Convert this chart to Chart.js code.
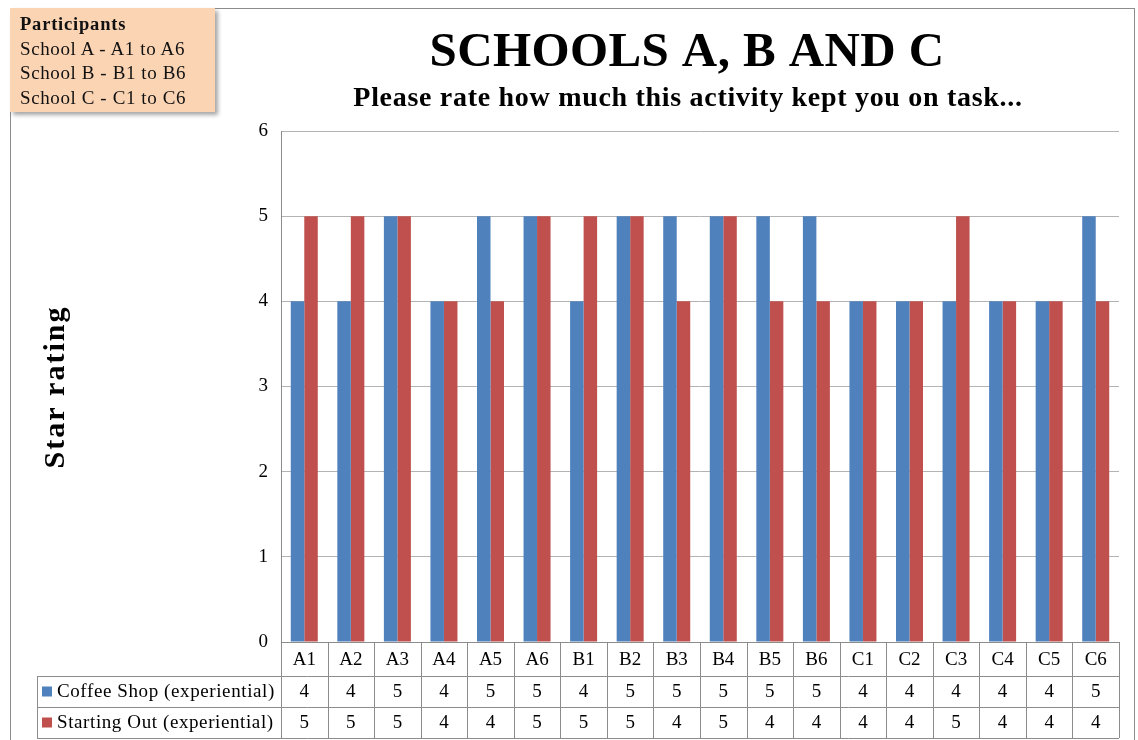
<!DOCTYPE html>
<html>
<head>
<meta charset="utf-8">
<script src="https://cdn.jsdelivr.net/npm/chart.js@4/dist/chart.umd.min.js"></script>
<style>
  body { margin: 0; background: #fff; }
  #wrap { position: relative; width: 1138px; height: 740px; }
  #note {
    position: absolute; left: 10px; top: 8px; width: 195px; height: 98px;
    padding: 4px 0 2px 10px; box-sizing: content-box;
    background: #fbd4b4; box-shadow: 3px 3px 4px rgba(0,0,0,0.35);
    font-family: 'Liberation Serif', serif; font-size: 19px; line-height: 24.7px; color: #111;
    letter-spacing: 0.6px; white-space: nowrap;
  }
  #note b { font-size: 18.5px; letter-spacing: 0.8px; }
</style>
</head>
<body>
<div id="wrap">
  <canvas id="chart" width="1138" height="740"></canvas>
  <div id="note"><b>Participants</b><br>School A - A1 to A6<br>School B - B1 to B6<br>School C - C1 to C6</div>
</div>
<script>
const labels = ['A1','A2','A3','A4','A5','A6','B1','B2','B3','B4','B5','B6','C1','C2','C3','C4','C5','C6']
const coffee_shop = [4,4,5,4,5,5,4,5,5,5,5,5,4,4,4,4,4,5]
const starting_out = [5,5,5,4,4,5,5,5,4,5,4,4,4,4,5,4,4,4]
const series_names = ['Coffee Shop (experiential)', 'Starting Out (experiential)']
const series_colors = ['#4f81bd', '#c0504d']
const title_text = 'SCHOOLS A, B AND C'
const subtitle_text = 'Please rate how much this activity kept you on task...'
const y_title = 'Star rating'

const serif = "'Liberation Serif', serif"

// draws frame, titles and the data table under the plot
const extras = {
    id: 'extras',
    afterDraw(chart) {
        const ctx = chart.ctx
        const area = chart.chartArea
        const x = chart.scales.x
        const n = labels.length
        const catW = (area.right - area.left) / n
        ctx.save()

        // outer frame
        ctx.strokeStyle = '#8c8c8c'
        ctx.lineWidth = 1
        ctx.strokeRect(10.5, 8.5, 1124, 760)

        ctx.fillStyle = '#000'
        ctx.textAlign = 'center'
        ctx.textBaseline = 'alphabetic'
        ctx.font = "bold 49px " + serif
        ctx.letterSpacing = '0.4px'
        ctx.fillText(title_text, 687, 66)
        ctx.font = "bold 28px " + serif
        ctx.letterSpacing = '0.7px'
        ctx.fillText(subtitle_text, 688, 106)

        // y axis title
        ctx.save()
        ctx.translate(56, 387)
        ctx.rotate(-Math.PI / 2)
        ctx.font = "bold 30px " + serif
        ctx.letterSpacing = '2px'
        ctx.textBaseline = 'middle'
        ctx.fillText(y_title, 0, 0)
        ctx.restore()
        ctx.letterSpacing = '0px'

        // table
        const rows = [area.bottom, 676, 707, 738]
        const tableLeft = 37
        ctx.strokeStyle = '#8c8c8c'
        ctx.beginPath()
        // horizontal lines
        ctx.moveTo(area.left, rows[0] + 0.5); ctx.lineTo(area.right, rows[0] + 0.5)
        for (let r = 1; r < rows.length; r++) {
            ctx.moveTo(tableLeft, rows[r] + 0.5); ctx.lineTo(area.right, rows[r] + 0.5)
        }
        // vertical lines
        ctx.moveTo(tableLeft + 0.5, rows[1]); ctx.lineTo(tableLeft + 0.5, rows[3])
        for (let k = 0; k <= n; k++) {
            const px = Math.round(x.getPixelForValue(k) - catW / 2) + 0.5
            ctx.moveTo(px, rows[0]); ctx.lineTo(px, rows[3])
        }
        ctx.stroke()

        ctx.font = "19px " + serif
        ctx.textBaseline = 'middle'
        ctx.textAlign = 'center'
        const values = [coffee_shop, starting_out]
        labels.forEach((lab, k) => {
            const cx = x.getPixelForValue(k)
            ctx.fillText(lab, cx, (rows[0] + rows[1]) / 2 + 1)
            for (let s = 0; s < values.length; s++) {
                ctx.fillText(String(values[s][k]), cx, (rows[s + 1] + rows[s + 2]) / 2 + 1)
            }
        })
        ctx.textAlign = 'left'
        ctx.letterSpacing = '0.6px'
        for (let s = 0; s < series_names.length; s++) {
            const cy = (rows[s + 1] + rows[s + 2]) / 2
            ctx.fillStyle = series_colors[s]
            ctx.fillRect(42, cy - 5, 10, 10)
            ctx.fillStyle = '#000'
            ctx.fillText(series_names[s], 57, cy + 1)
        }
        ctx.restore()
    }
}

new Chart('chart', {
    type: 'bar',
    data: {
        labels: labels,
        datasets: [
            { label: series_names[0], data: coffee_shop, backgroundColor: series_colors[0] },
            { label: series_names[1], data: starting_out, backgroundColor: series_colors[1] }
        ]
    },
    options: {
        responsive: false,
        animation: false,
        events: [],
        layout: { padding: { left: 0, top: 131, right: 19, bottom: 98 } },
        datasets: { bar: { categoryPercentage: 0.58, barPercentage: 1 } },
        plugins: { legend: { display: false }, tooltip: { enabled: false } },
        scales: {
            x: { display: false },
            y: {
                min: 0, max: 6,
                ticks: { stepSize: 1, padding: 13, color: '#000', font: { family: serif, size: 19 } },
                grid: { color: '#b3b3b3', drawTicks: false },
                border: { color: '#8c8c8c' },
                afterFit(scale) { scale.width = 281 }
            }
        }
    },
    plugins: [extras]
});
</script>
</body>
</html>
